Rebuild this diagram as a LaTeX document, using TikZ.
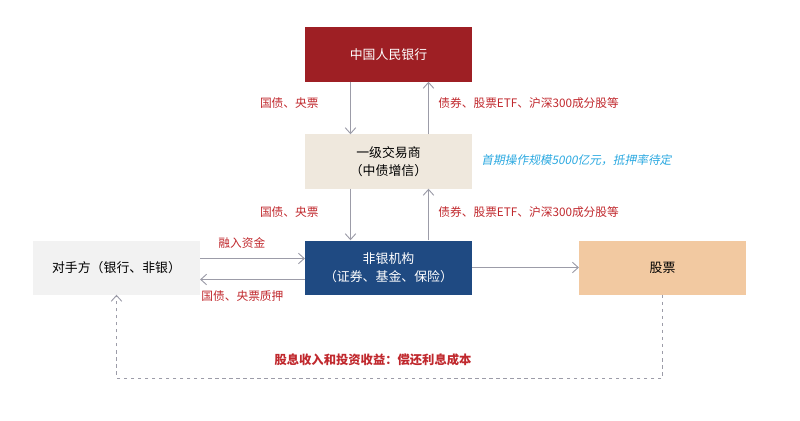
\documentclass[tikz,border=0pt]{standalone}
\usepackage{fontspec}
\setmainfont{Noto Sans CJK SC}
\newfontfamily\slantcjk[FakeSlant=0.2]{Noto Sans CJK SC}
\usetikzlibrary{arrows.meta}
\definecolor{pbocred}{HTML}{9E1F24}
\definecolor{dealerbg}{HTML}{EFE8DD}
\definecolor{nbblue}{HTML}{1F4A82}
\definecolor{cpgray}{HTML}{F2F2F2}
\definecolor{stockbg}{HTML}{F2C9A1}
\definecolor{lblred}{HTML}{C0282D}
\definecolor{lblblue}{HTML}{2AA8E0}
\definecolor{linegray}{HTML}{9C9CA8}
\tikzset{
  box/.style={minimum width=5cm, minimum height=1.62cm, inner sep=0pt, align=center, font=\fontsize{11}{15}\selectfont},
  flow/.style={draw=linegray, thick, -{Straight Barb[length=5pt,width=9pt]}},
  lbl/.style={text=lblred, font=\fontsize{10}{12}\selectfont, inner sep=1pt}
}
\begin{document}
\begin{tikzpicture}[x=0.03cm, y=-0.03cm]
 \useasboundingbox (0,0) rectangle (800,421);

 % boxes
 \node[box, fill=pbocred, text=white] (pboc) at (388.5,54.5) {中国人民银行};
 \node[box, fill=dealerbg] (dealer) at (388.5,161.5) {一级交易商\\（中债增信）};
 \node[box, fill=nbblue, text=white] (nonbank) at (388.5,267.5) {非银机构\\（证券、基金、保险）};
 \node[box, fill=cpgray] (cparty) at (116.5,267.5) {对手方（银行、非银）};
 \node[box, fill=stockbg] (stock) at (662.5,267.5) {股票};

 % vertical lines
 \foreach \top/\bot in {pboc/dealer, dealer/nonbank} {
   \draw[flow] ([xshift=-1.14cm]\top.south) -- ([xshift=-1.14cm]\bot.north);
   \draw[flow] ([xshift=1.2cm]\bot.north) -- ([xshift=1.2cm]\top.south);
 }

 % horizontal lines
 \draw[flow] ([yshift=0.27cm]cparty.east) -- ([yshift=0.27cm]nonbank.west);
 \draw[flow] ([yshift=-0.36cm]nonbank.west) -- ([yshift=-0.36cm]cparty.east);
 \draw[flow] (nonbank.east) -- (stock.west);

 % return path
 \coordinate (c1) at (662.5,378);
 \coordinate (c2) at (116.5,378);
 \draw[flow, dashed] (stock.south) -- (c1) -- (c2) -- (cparty.south);

 % labels
 \foreach \y in {103,212} {
   \node[lbl, anchor=east] at (320,\y) {国债、央票};
   \node[lbl, anchor=west] at (437,\y) {债券、股票ETF、沪深300成分股等};
 }
 \node[lbl, anchor=west, text=lblblue, font=\slantcjk\fontsize{10}{12}\selectfont] at (480,160) {首期操作规模5000亿元，抵押率待定};
 \node[lbl, anchor=west] at (217,243) {融入资金};
 \node[lbl, anchor=west] at (200,296) {国债、央票质押};
 \node[lbl, font=\bfseries\fontsize{10.5}{12}\selectfont] at (373,360) {股息收入和投资收益：偿还利息成本};
\end{tikzpicture}
\end{document}
